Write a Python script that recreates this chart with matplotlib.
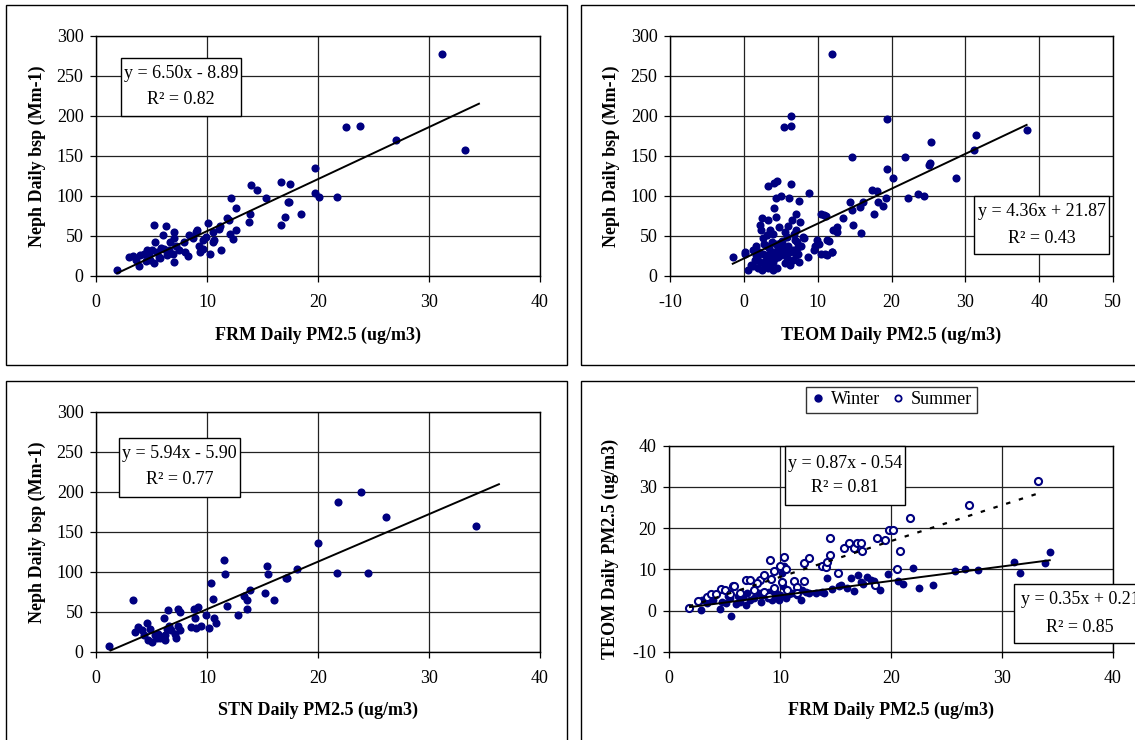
import numpy as np
import matplotlib
matplotlib.use("Agg")
import matplotlib.pyplot as plt
from matplotlib.patches import Rectangle
from matplotlib.lines import Line2D

plt.rcParams['font.family'] = ['Liberation Serif', 'DejaVu Serif']
plt.rcParams['axes.unicode_minus'] = False

# ---- panel 1: FRM vs Neph ----
frm_x = [1.9, 3.0, 3.3, 3.6, 3.9, 4.0, 4.6, 4.8, 4.9, 5.2, 5.2, 5.3, 5.5, 5.7, 5.8, 6.0, 6.1, 6.3,
         6.4, 6.6, 6.7, 6.9, 7.0, 7.0, 7.0, 7.2, 7.5, 7.9, 8.3, 8.4, 8.7, 9.0, 9.1, 9.3, 9.4, 9.6,
         9.6, 9.9, 10.1, 10.3, 10.5, 10.5, 11.1, 11.3, 11.8, 12.0, 12.1, 12.2, 12.3, 12.6, 12.6,
         13.8, 13.9, 14.0, 14.5, 15.3, 16.7, 16.7, 17.0, 17.3, 17.4, 17.5, 18.5, 19.7, 19.7, 20.1,
         21.7, 22.5, 23.8, 27.0, 31.2, 33.2, 4.3, 4.5, 5.0, 5.9, 8.0, 10.6, 11.2]
frm_neph = [7, 24, 25, 20, 12, 26, 32, 26, 20, 16, 64, 42, 30, 24, 22, 51, 34, 62,
            26, 32, 43, 28, 55, 47, 18, 37, 32, 43, 25, 51, 47, 55, 58, 37, 30, 45,
            34, 49, 66, 28, 55, 43, 59, 33, 73, 70, 53, 97, 46, 57, 85,
            68, 78, 114, 107, 97, 64, 118, 74, 92, 93, 115, 78, 135, 104, 99,
            99, 186, 188, 170, 278, 157, 27, 19, 33, 35, 30, 45, 62]
frm_fit = (6.50, -8.89, 1.9, 34.5)

# ---- panel 2: TEOM vs Neph ----
teom_x = [-1.5, 0.1, 0.2, 0.6, 1.0, 1.3, 1.5, 1.7, 1.9, 2.2, 2.3, 2.4, 2.6, 2.6, 2.8, 3.1, 3.1,
          3.3, 3.3, 3.5, 3.6, 3.75, 4.0, 4.0, 4.1, 4.2, 4.3, 4.4, 4.5, 4.65, 4.8, 4.9, 3.3, 4.1,
          4.5, 5.1, 5.3, 5.6, 5.8, 6.0, 6.1, 6.2, 6.4, 6.5, 6.7, 6.9, 7.1, 7.1, 7.4, 7.45, 7.6,
          7.8, 8.0, 8.7, 8.8, 9.6, 9.85, 10.4, 10.5, 11.1, 11.2, 11.3, 11.9, 12.1, 12.6, 12.6,
          13.4, 14.4, 14.6, 14.8, 15.8, 15.9, 16.2, 17.3, 17.6, 18.0, 18.2, 18.8, 19.3, 14.6,
          19.4, 20.2, 19.4, 21.8, 22.3, 23.6, 24.4, 25.1, 25.2, 25.3, 28.7, 31.2, 31.5, 38.3,
          11.9, 5.4, 6.4, 6.4,
          1.2, 1.8, 2.0, 2.2, 2.5, 2.9, 3.0, 3.2, 3.4, 3.6, 3.8, 4.2, 4.4, 4.6, 5.0, 5.2, 5.5,
          5.8, 6.0, 6.3, 6.6, 7.0, 7.3, 7.5, 2.7, 1.6, 3.9, 5.6, 6.8, 7.2, 10.2, 11.5, 9.5, 8.2,
          10.8, 11.0, 12.0]
teom_neph = [24, 28, 30, 8, 14, 32, 20, 37, 10, 64, 58, 72, 47, 28, 16, 37, 51,
             70, 10, 24, 58, 43, 18, 53, 85, 30, 97, 74, 10, 24, 61, 41, 113, 116,
             119, 100, 37, 16, 49, 63, 97, 30, 115, 70, 20, 45, 78, 57, 28, 94, 67,
             37, 49, 24, 104, 37, 45, 78, 28, 75, 45, 26, 30, 57, 61, 55,
             72, 92, 82, 64, 86, 54, 92, 107, 78, 106, 93, 88, 98, 149,
             134, 122, 196, 149, 98, 103, 100, 139, 141, 168, 123, 157, 176, 182,
             278, 186, 188, 200,
             12, 22, 30, 18, 8, 12, 20, 26, 35, 14, 30, 22, 40, 34, 26, 44, 30,
             22, 38, 14, 33, 26, 36, 18, 40, 26, 8, 55, 52, 42, 40, 44, 32, 47,
             76, 28, 30]
teom_fit = (4.36, 21.87, -1.5, 38.3)

# ---- panel 3: STN vs Neph ----
stn_x = [1.2, 3.3, 3.5, 3.8, 4.1, 4.3, 4.6, 4.7, 4.9, 5.0, 5.3, 5.5, 5.6, 5.8, 6.1, 6.2, 6.2,
         6.4, 6.5, 6.6, 6.8, 7.1, 7.2, 7.4, 7.6, 7.4, 7.6, 8.6, 8.8, 8.9, 9.0, 9.2, 9.5, 9.9,
         10.2, 10.4, 10.5, 10.6, 10.8, 11.5, 11.6, 11.8, 12.8, 13.3, 13.6, 13.6, 13.9, 15.2,
         15.4, 15.5, 16.0, 17.1, 17.2, 18.1, 20.0, 21.7, 21.8, 23.9, 24.5, 26.1, 34.2]
stn_neph = [7, 65, 25, 31, 27, 21, 36, 15, 29, 12, 21, 18, 23, 18, 43, 21, 15,
            29, 52, 33, 27, 23, 18, 54, 50, 32, 27, 31, 54, 43, 30, 56, 33, 46,
            30, 86, 66, 43, 36, 115, 98, 58, 46, 70, 65, 54, 78, 74,
            107, 98, 65, 92, 93, 104, 136, 99, 188, 200, 99, 169, 157]
stn_fit = (5.94, -5.90, 1.3, 36.3)

# ---- panel 4: FRM vs TEOM, by season ----
winter_frm = [2.9, 3.0, 3.4, 4.6, 5.6, 5.1, 5.5, 6.0, 6.4, 6.9, 6.7, 7.0, 7.7, 8.1, 8.5, 8.9, 9.3,
              9.6, 9.7, 9.9, 10.0, 10.3, 10.2, 10.4, 10.5, 11.1, 11.9, 12.6, 13.8, 14.0, 14.2,
              14.7, 15.3, 16.4, 16.7, 17.0, 17.3, 17.8, 18.5, 19.0, 19.7, 20.6, 21.1, 22.0, 22.5,
              23.8, 25.8, 26.7, 27.8, 31.1, 31.6, 33.9, 34.3,
              4.0, 4.8, 5.3, 6.2, 7.3, 8.3, 9.0, 10.8, 11.5, 12.3, 13.2, 15.5, 16.0, 17.5, 18.2, 12.0]
winter_teom = [0.2, 2.6, 1.8, 0.3, -1.3, 1.9, 3.0, 1.6, 2.2, 1.4, 3.2, 4.2, 3.0, 4.2, 3.8, 3.0, 2.6,
               4.2, 3.0, 2.6, 3.8, 5.9, 9.2, 10.8, 3.0, 4.2, 2.7, 4.2, 4.6, 4.3, 8.0,
               5.2, 6.0, 8.0, 4.8, 8.7, 7.0, 8.2, 7.2, 5.0, 8.8, 7.3, 6.5, 10.3, 5.5,
               6.3, 9.6, 10.1, 9.9, 11.9, 9.2, 11.5, 14.3,
               2.5, 2.0, 3.5, 3.5, 2.5, 2.0, 4.5, 4.0, 3.8, 4.5, 4.3, 6.2, 5.5, 6.5, 7.5, 5.0]
summer_frm = [1.8, 3.4, 3.8, 4.7, 5.8, 5.9, 6.4, 6.9, 7.3, 7.7, 8.2, 8.6, 9.1, 9.2, 9.5, 10.0,
              10.4, 10.5, 10.2, 11.3, 11.5, 12.2, 12.2, 12.6, 13.8, 14.1, 14.2, 14.5, 14.5, 15.2,
              15.8, 16.2, 16.7, 16.9, 17.3, 17.4, 18.6, 18.7, 19.5, 19.8, 20.2, 20.5, 20.8, 21.7,
              27.0, 33.2, 2.6, 4.2, 5.0, 5.5, 7.9, 8.6, 9.5, 10.6, 9.0, 11.5]
summer_teom = [0.7, 3.4, 4.0, 5.2, 5.9, 6.0, 4.2, 7.4, 7.4, 5.0, 7.4, 8.6, 12.3, 7.6, 9.5, 10.9,
               12.9, 10.0, 7.0, 7.3, 5.7, 7.2, 11.5, 12.7, 10.9, 10.5, 11.9, 13.5, 17.5, 9.2,
               15.1, 16.5, 15.1, 16.5, 16.3, 14.5, 6.3, 17.7, 17.1, 19.5, 19.5, 10.0, 14.5, 22.5,
               25.5, 31.4, 2.4, 4.0, 5.0, 4.0, 6.7, 4.6, 5.5, 5.0, 3.5, 4.2]
winter_fit = (0.35, 0.21, 1.9, 34.3)
summer_fit = (0.87, -0.54, 1.8, 33.2)

NAVY = '#000080'
W, H = 1135, 740


def fx(px):
    return px / W


def fy(py):
    return 1 - py / H


def add_axes(fig, l, t, r, b):
    return fig.add_axes([fx(l), fy(b), (r - l) / W, (b - t) / H])


def style(ax, xlim, xstep, ylim, ystep, xlabel, ylabel, lab_y):
    ax.set_xlim(*xlim)
    ax.set_ylim(*ylim)
    ax.set_xticks(np.arange(xlim[0], xlim[1] + 0.1, xstep))
    ax.set_yticks(np.arange(ylim[0], ylim[1] + 0.1, ystep))
    ax.grid(True, color='#222222', linewidth=0.9)
    ax.set_axisbelow(True)
    ax.tick_params(direction='out', length=4, width=0.9, labelsize=13, color='black')
    ax.tick_params(axis='x', pad=9)
    ax.tick_params(axis='y', pad=5)
    for s in ax.spines.values():
        s.set_linewidth(1.0)
    ax.set_xlabel(xlabel, fontsize=13, fontweight='bold')
    ax.set_ylabel(ylabel, fontsize=13, fontweight='bold')
    ax.xaxis.set_label_coords(0.5, lab_y)
    ax.xaxis.label.set_va('center')
    ax.yaxis.set_label_coords(-0.133, 0.5)
    ax.yaxis.label.set_va('center')


def fit_line(ax, fit, **kw):
    a, b, x0, x1 = fit
    xs = np.array([x0, x1])
    ax.plot(xs, a * xs + b, **kw)


def eq_box(fig, l, t, r, b, lines, cx, ys):
    fig.add_artist(Rectangle((fx(l), fy(b)), (r - l) / W, (b - t) / H,
                             transform=fig.transFigure, facecolor='white',
                             edgecolor='black', linewidth=1.0, zorder=5))
    for txt, yy in zip(lines, ys):
        fig.text(fx(cx), fy(yy), txt, ha='center', va='center', fontsize=13, zorder=6)


fig = plt.figure(figsize=(W / 100, H / 100), dpi=100)

# panel borders
for (l, t, r, b) in [(6, 5, 567, 365), (581, 5, 1140, 365), (6, 381, 567, 745), (581, 381, 1140, 745)]:
    fig.add_artist(Rectangle((fx(l), fy(b)), (r - l) / W, (b - t) / H,
                             transform=fig.transFigure, fill=False,
                             edgecolor='black', linewidth=1.0, zorder=0))

ax1 = add_axes(fig, 96, 36, 540, 276)
ax1.scatter(frm_x, frm_neph, s=34, color=NAVY, zorder=3, linewidths=0)
fit_line(ax1, frm_fit, color='black', linewidth=1.4, zorder=4)
style(ax1, (0, 40), 10, (0, 300), 50, 'FRM Daily PM2.5 (ug/m3)', 'Neph Daily bsp (Mm-1)', -0.246)

ax2 = add_axes(fig, 670, 36, 1113, 276)
ax2.scatter(teom_x, teom_neph, s=34, color=NAVY, zorder=3, linewidths=0)
fit_line(ax2, teom_fit, color='black', linewidth=1.4, zorder=4)
style(ax2, (-10, 50), 10, (0, 300), 50, 'TEOM Daily PM2.5 (ug/m3)', 'Neph Daily bsp (Mm-1)', -0.246)

ax3 = add_axes(fig, 96, 412, 540, 652)
ax3.scatter(stn_x, stn_neph, s=34, color=NAVY, zorder=3, linewidths=0)
fit_line(ax3, stn_fit, color='black', linewidth=1.4, zorder=4)
style(ax3, (0, 40), 10, (0, 300), 50, 'STN Daily PM2.5 (ug/m3)', 'Neph Daily bsp (Mm-1)', -0.242)

ax4 = add_axes(fig, 669, 445.5, 1113, 652)
ax4.scatter(winter_frm, winter_teom, s=32, color=NAVY, zorder=3, linewidths=0)
ax4.scatter(summer_frm, summer_teom, s=26, facecolors='white', edgecolors=NAVY, linewidths=1.5, zorder=3)
fit_line(ax4, winter_fit, color='black', linewidth=1.4, zorder=4)
fit_line(ax4, summer_fit, color='black', linewidth=1.6, linestyle=(0, (2, 4)), zorder=4)
style(ax4, (0, 40), 10, (-10, 40), 10, 'FRM Daily PM2.5 (ug/m3)', 'TEOM Daily PM2.5 (ug/m3)', -0.281)
ax4.yaxis.set_label_coords(-0.131, 0.5)

handles = [Line2D([], [], marker='o', linestyle='none', markersize=5, color=NAVY),
           Line2D([], [], marker='o', linestyle='none', markersize=4.5, markerfacecolor='white',
                  markeredgecolor=NAVY, markeredgewidth=1.3)]
leg = fig.legend(handles, ['Winter', 'Summer'], loc='center', ncol=2,
                 bbox_to_anchor=(fx(891.5), fy(400)), bbox_transform=fig.transFigure,
                 fontsize=13, frameon=True, fancybox=False, edgecolor='black',
                 handlelength=0.8, handletextpad=0.3, columnspacing=0.6, borderpad=0.25)
leg.get_frame().set_linewidth(1.0)

eq_box(fig, 121, 58, 241, 116, ['y = 6.50x - 8.89', 'R\u00b2 = 0.82'], 181, [73, 100])
eq_box(fig, 974, 196, 1109, 254, ['y = 4.36x + 21.87', 'R\u00b2 = 0.43'], 1041.5, [212, 238])
eq_box(fig, 119, 438, 240, 497, ['y = 5.94x - 5.90', 'R\u00b2 = 0.77'], 179.5, [453, 480])
eq_box(fig, 785, 446, 905, 505, ['y = 0.87x - 0.54', 'R\u00b2 = 0.81'], 845, [463, 488])
eq_box(fig, 1014, 584, 1150, 643, ['y = 0.35x + 0.21', 'R\u00b2 = 0.85'], 1080, [600, 627])

fig.savefig('out.png', dpi=100)
